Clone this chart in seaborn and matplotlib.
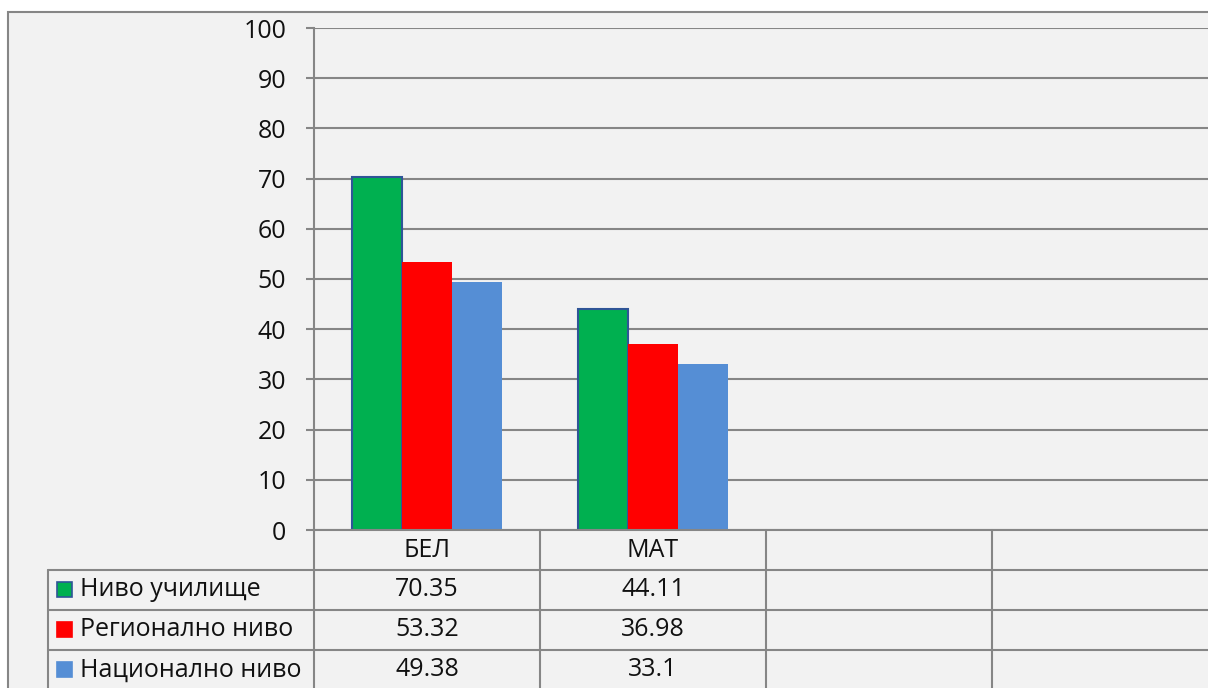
import matplotlib
matplotlib.use('Agg')
import matplotlib.pyplot as plt
import matplotlib.transforms as mtransforms
from matplotlib.patches import Rectangle
import pandas as pd
import seaborn as sns

# ---- data ----
subjects = ['БЕЛ', 'МАТ']
levels = ['Ниво училище', 'Регионално ниво', 'Национално ниво']
school = [70.35, 44.11]
regional = [53.32, 36.98]
national = [49.38, 33.1]
colors = ['#00B050', '#FF0000', '#558ED5']
n_slots = 4   # the chart shows 4 category slots, two are empty

df = pd.DataFrame({
    'subject': subjects * 3,
    'level': [levels[0]] * 2 + [levels[1]] * 2 + [levels[2]] * 2,
    'score': school + regional + national,
})
values = {levels[0]: school, levels[1]: regional, levels[2]: national}

sns.set_theme(style='white')
plt.rcParams['font.family'] = ['Open Sans', 'DejaVu Sans']
GRID = '#868686'
TXT = '#111111'
FS = 18

W, H = 1208, 688
fig = plt.figure(figsize=(W / 100, H / 100), dpi=100, facecolor='white')

# background axes in pixel coordinates (for the frame and the data table)
bg = fig.add_axes([0, 0, 1, 1], zorder=0)
bg.set_xlim(0, W)
bg.set_ylim(H, 0)
bg.axis('off')
bg.add_patch(Rectangle((8, 12), W + 20, H + 20, facecolor='#F2F2F2',
                       edgecolor=GRID, lw=1.5))

# plot area: y 28..530 px, x from 314 px, four slots of 226 px
x0, top, base, slot = 314, 28, 530, 226
ax = fig.add_axes([x0 / W, (H - base) / H, n_slots * slot / W, (base - top) / H],
                  zorder=1)
ax.patch.set_alpha(0)

sns.barplot(data=df, x='subject', y='score', hue='level', order=subjects,
            hue_order=levels, palette=colors, saturation=1, width=0.664,
            legend=False, linewidth=0, ax=ax)
for bar in ax.containers[0]:
    bar.set_edgecolor('#2F5597')
    bar.set_linewidth(1.5)

ax.set_xlim(-0.5, n_slots - 0.5)
ax.set_ylim(0, 100)
ax.set_yticks(range(0, 101, 10))
ax.yaxis.grid(True, color=GRID, lw=1.5)
ax.set_axisbelow(True)
ax.tick_params(axis='y', length=6, width=1.5, color=GRID, pad=14,
               labelsize=FS, labelcolor=TXT, left=True)
ax.tick_params(axis='x', length=0, pad=6, labelsize=FS, labelcolor=TXT)
ax.set_xlabel('')
ax.set_ylabel('')
for side in ['top', 'right']:
    ax.spines[side].set_visible(False)
ax.spines['left'].set_color(GRID)
ax.spines['left'].set_linewidth(1.5)
ax.spines['bottom'].set_color(GRID)
ax.spines['bottom'].set_linewidth(1.5)

# ---- data table below the axis ----
tr = mtransforms.blended_transform_factory(ax.transData, bg.transData)
row_edges = [570, 610, 650]
row_centers = [590, 630, 670]
kw = dict(color=GRID, lw=1.5, zorder=2)

bg.plot([x0, x0], [base, H], **kw)
bg.plot([48, 48], [row_edges[0], H], **kw)
for y in row_edges:
    bg.plot([48, W], [y, y], **kw)
for k in range(1, n_slots):
    bg.plot([k - 0.5, k - 0.5], [base, H], transform=tr, **kw)

for level, col, yc in zip(levels, colors, row_centers):
    ec = '#2F5597' if level == levels[0] else col
    bg.add_patch(Rectangle((57, yc - 8), 15, 15, facecolor=col,
                           edgecolor=ec, lw=1.2, zorder=3))
    bg.text(80, yc, level, fontsize=FS, color=TXT, va='center', ha='left')
    for i, v in enumerate(values[level]):
        bg.text(i, yc, f'{v:g}', transform=tr, fontsize=FS, color=TXT,
                va='center', ha='center')

fig.savefig('out.png', dpi=100, facecolor='white')
